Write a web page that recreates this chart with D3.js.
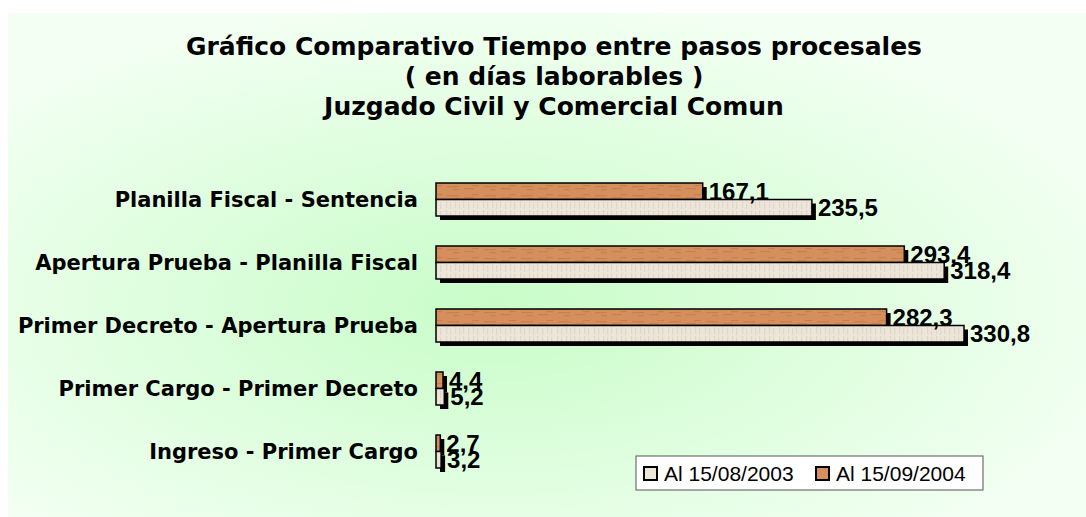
<!DOCTYPE html>
<html>
<head>
<meta charset="utf-8">
<script src="https://cdn.jsdelivr.net/npm/d3@7"></script>
<style>
  body { margin: 0; background: #fff; }
  svg { display: block; }
</style>
</head>
<body>
<svg id="chart" width="1086" height="517"></svg>
<script>
// data
let categories = [
    "Planilla Fiscal - Sentencia",
    "Apertura Prueba - Planilla Fiscal",
    "Primer Decreto - Apertura Prueba",
    "Primer Cargo - Primer Decreto",
    "Ingreso - Primer Cargo"
];
let seriesNames = ["Al 15/09/2004", "Al 15/08/2003"]; // top bar, bottom bar
let values2004 = [167.1, 293.4, 282.3, 4.4, 2.7];
let values2003 = [235.5, 318.4, 330.8, 5.2, 3.2];
let legendOrder = ["Al 15/08/2003", "Al 15/09/2004"];
let titleLines = [
    "Gráfico Comparativo Tiempo entre pasos procesales",
    "( en días laborables )",
    "Juzgado Civil y Comercial Comun"
];

let svg = d3.select("#chart");
let defs = svg.append("defs");

// background gradient, green in the middle, pale at the edges
let bg = defs.append("radialGradient").attr("id", "bgGrad")
    .attr("cx", "0.45").attr("cy", "0.58").attr("r", "0.6");
bg.append("stop").attr("offset", "0%").attr("stop-color", "#c8fcc8");
bg.append("stop").attr("offset", "100%").attr("stop-color", "#f2fff2");

// rough textures for the bars
function texture(id, base, streak, vertical) {
    let p = defs.append("pattern").attr("id", id)
        .attr("patternUnits", "userSpaceOnUse")
        .attr("width", 37).attr("height", 9);
    p.append("rect").attr("width", 37).attr("height", 9).attr("fill", base);
    if (vertical) {
        [2, 6, 11, 15, 19, 24, 29, 33].forEach(function(x, i) {
            p.append("rect").attr("x", x).attr("y", i % 2).attr("width", 1.2).attr("height", 7)
                .attr("fill", streak).attr("opacity", 0.45);
        });
    } else {
        [[3, 3, 12], [20, 5, 10], [9, 6, 6], [28, 2, 7]].forEach(function(s) {
            p.append("rect").attr("x", s[0]).attr("y", s[1]).attr("width", s[2]).attr("height", 1.2)
                .attr("fill", streak).attr("opacity", 0.45);
        });
    }
}
texture("tex2004", "#d48f5c", "#b36e3e", false);
texture("tex2003", "#ece5d8", "#cfc5b4", true);
let fills = { "Al 15/09/2004": "url(#tex2004)", "Al 15/08/2003": "url(#tex2003)" };
let swatch = { "Al 15/09/2004": "#d48f5c", "Al 15/08/2003": "#ece5d8" };

svg.append("rect")
    .attr("x", 8).attr("y", 13).attr("width", 1078).attr("height", 504)
    .attr("fill", "url(#bgGrad)");

// title
svg.append("g").selectAll("text")
    .data(titleLines)
    .enter().append("text")
    .attr("x", 554)
    .attr("y", (d, i) => 55 + i * 30)
    .attr("text-anchor", "middle")
    .attr("font-family", "Verdana, 'DejaVu Sans', sans-serif")
    .attr("font-weight", "bold")
    .attr("font-size", 25)
    .text(d => d);

let x0 = 436;
let xScale = d3.scaleLinear().domain([0, 330.8]).range([x0, x0 + 528]);
let yScale = d3.scaleBand().domain(categories).range([183, 468])
    .paddingInner(30 / 63).paddingOuter(0);
let ySub = d3.scaleBand().domain(seriesNames).range([0, yScale.bandwidth()]);

let rows = categories.map((c, i) => ({
    cat: c,
    bars: [
        { name: "Al 15/09/2004", value: values2004[i] },
        { name: "Al 15/08/2003", value: values2003[i] }
    ]
}));

// category labels
svg.append("g").selectAll("text")
    .data(categories)
    .enter().append("text")
    .attr("x", 418)
    .attr("y", d => yScale(d) + yScale.bandwidth() / 2)
    .attr("dy", "0.35em")
    .attr("text-anchor", "end")
    .attr("font-family", "Verdana, 'DejaVu Sans', sans-serif")
    .attr("font-weight", "bold")
    .attr("font-size", 21)
    .text(d => d);

let groups = svg.append("g").selectAll("g")
    .data(rows)
    .enter().append("g")
    .attr("transform", d => "translate(0," + yScale(d.cat) + ")");

// shadows first so they sit under every bar
groups.selectAll(".shadow")
    .data(d => d.bars)
    .enter().append("rect")
    .attr("class", "shadow")
    .attr("x", xScale(0) + 4)
    .attr("y", d => ySub(d.name) + 4)
    .attr("width", d => xScale(d.value) - xScale(0))
    .attr("height", ySub.bandwidth())
    .attr("fill", "#000");

groups.selectAll(".bar")
    .data(d => d.bars)
    .enter().append("rect")
    .attr("class", "bar")
    .attr("x", xScale(0))
    .attr("y", d => ySub(d.name))
    .attr("width", d => xScale(d.value) - xScale(0))
    .attr("height", ySub.bandwidth())
    .attr("fill", d => fills[d.name])
    .attr("stroke", "#000")
    .attr("stroke-width", 1.5);

groups.selectAll(".val")
    .data(d => d.bars)
    .enter().append("text")
    .attr("class", "val")
    .attr("x", d => xScale(d.value) + 6)
    .attr("y", d => ySub(d.name) + ySub.bandwidth() / 2)
    .attr("dy", "0.36em")
    .attr("font-family", "Arial, 'Liberation Sans', sans-serif")
    .attr("font-weight", "bold")
    .attr("font-size", 24)
    .text(d => d3.format(".1f")(d.value).replace(".", ","));

// legend
let lg = svg.append("g").attr("transform", "translate(636,456)");
lg.append("rect").attr("width", 347).attr("height", 34)
    .attr("fill", "#fff").attr("stroke", "#555").attr("stroke-width", 1);
let items = lg.selectAll(".item")
    .data(legendOrder)
    .enter().append("g")
    .attr("transform", (d, i) => "translate(" + (8 + i * 172) + ",0)");
items.append("rect")
    .attr("x", 0).attr("y", 11).attr("width", 13).attr("height", 13)
    .attr("fill", d => swatch[d]).attr("stroke", "#000").attr("stroke-width", 2);
items.append("text")
    .attr("x", 20).attr("y", 17).attr("dy", "0.36em")
    .attr("font-family", "Arial, 'Liberation Sans', sans-serif")
    .attr("font-size", 21)
    .text(d => d);
</script>
</body>
</html>
